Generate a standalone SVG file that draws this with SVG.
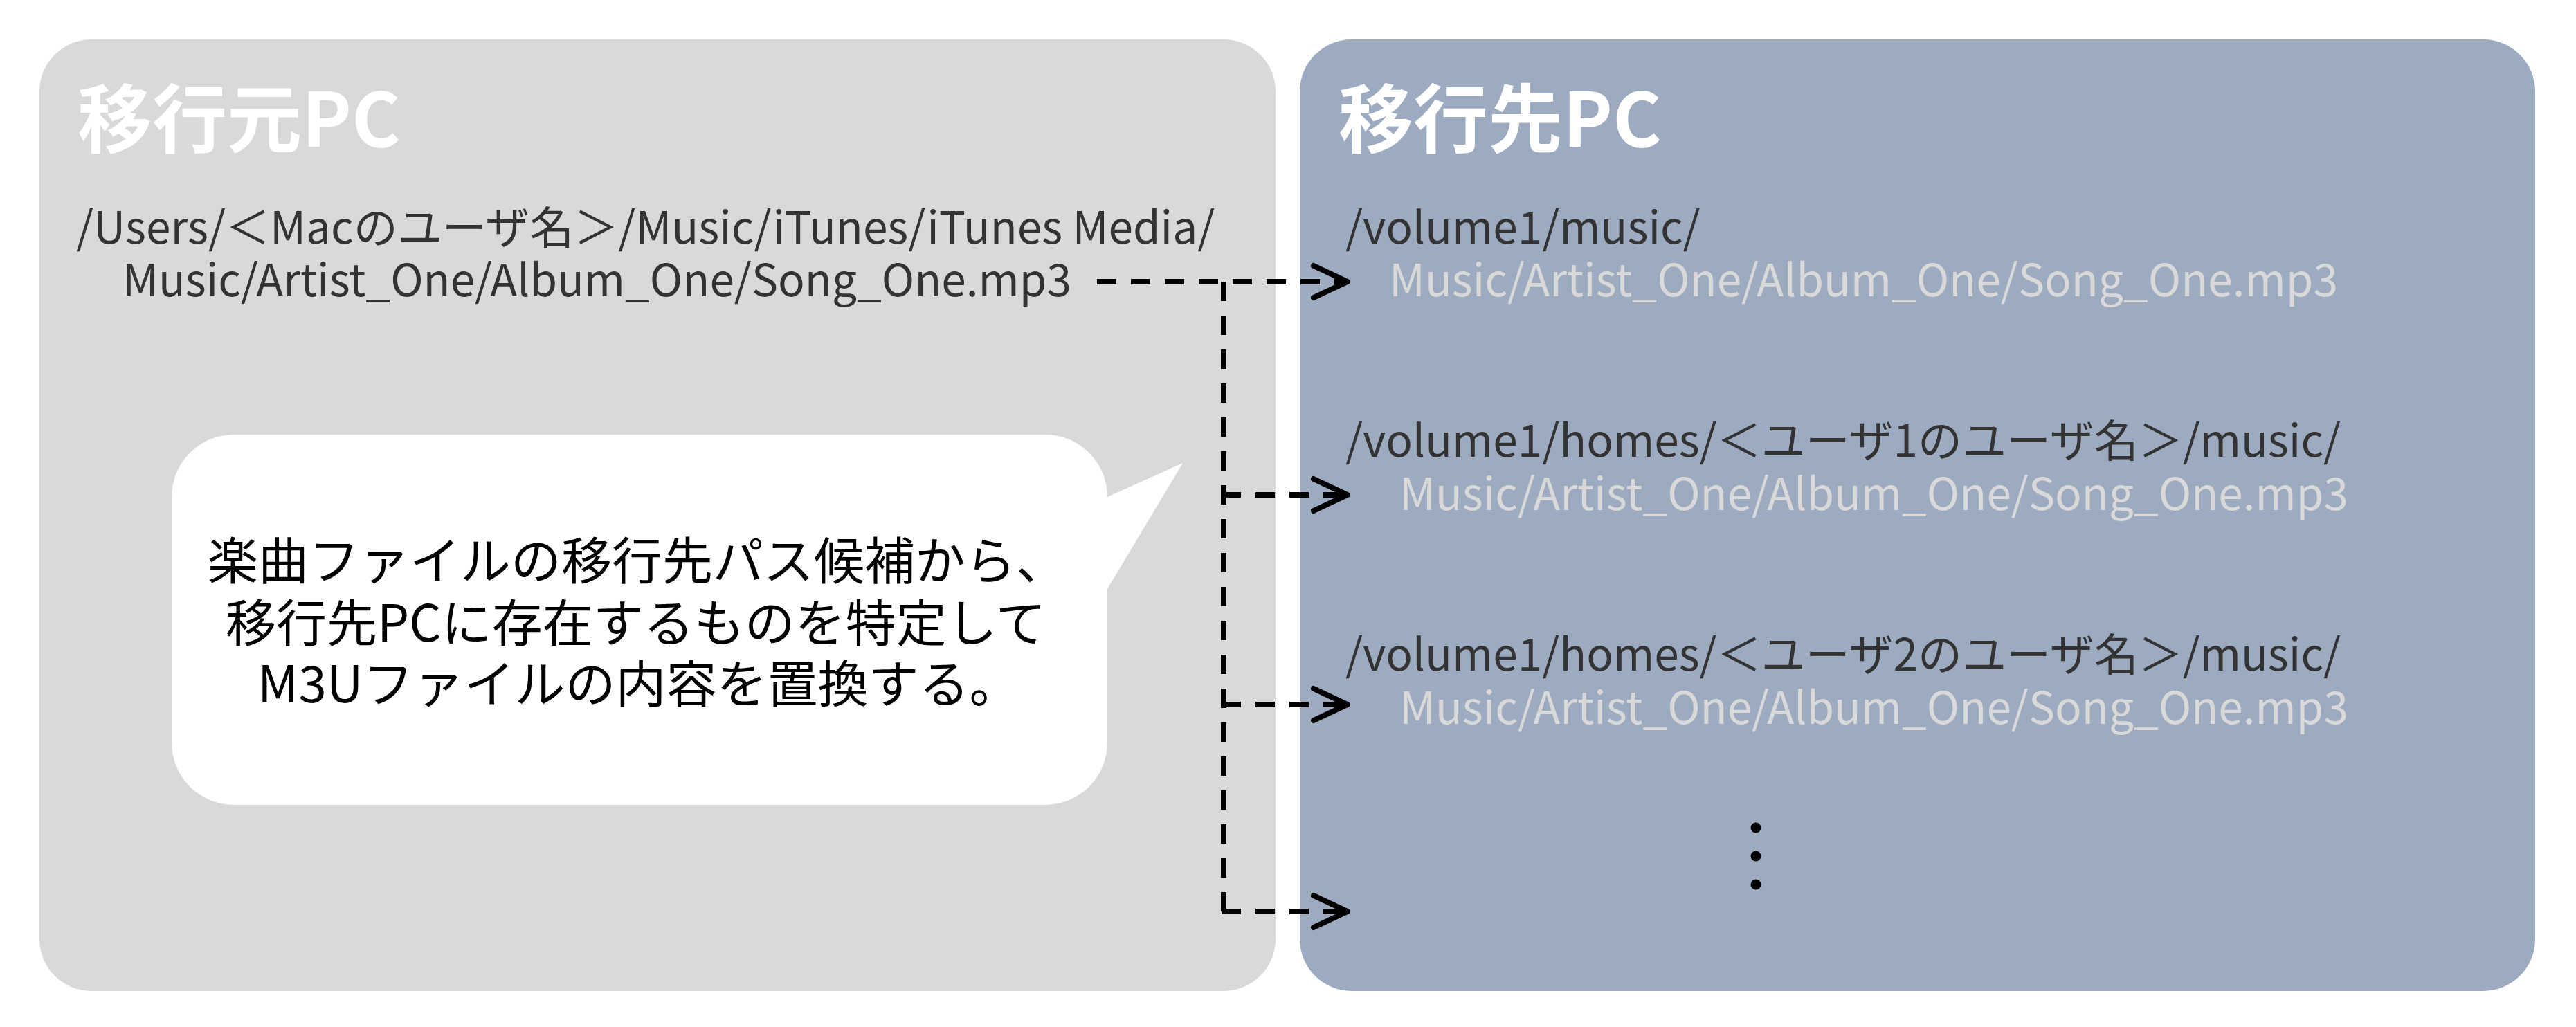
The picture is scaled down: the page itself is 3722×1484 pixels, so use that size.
<svg xmlns="http://www.w3.org/2000/svg" width="3722" height="1484" viewBox="0 0 3722 1484">
<defs>
<style>
.title{font-family:"Noto Sans CJK JP","Noto Sans",sans-serif;font-weight:700;font-size:108px;fill:#ffffff}
.path{font-family:"Noto Sans CJK JP","Noto Sans",sans-serif;font-weight:400;font-size:64px}
.dark{fill:#333333}
.light{fill:#d9d9d9}
.bubble{font-family:"Noto Sans CJK JP",sans-serif;font-weight:400;font-size:73px;fill:#000000}
.conn{fill:none;stroke:#000;stroke-width:8;stroke-dasharray:28 21}
.vline{fill:none;stroke:#000;stroke-width:8;stroke-dasharray:28 21}
</style>
<marker id="chev" markerUnits="userSpaceOnUse" viewBox="-6 -6 62 58" refX="49" refY="23" markerWidth="62" markerHeight="58" orient="auto" overflow="visible">
<path d="M0,0 L49,23 L0,46" fill="none" stroke="#000" stroke-width="8" stroke-linecap="round" stroke-linejoin="round" stroke-dasharray="none"/>
</marker>
</defs>
<rect width="3722" height="1484" fill="#ffffff"/>
<g id="source-pc">
<rect x="57" y="57" width="1786" height="1375" rx="75" ry="75" fill="#d9d9d9"/>
<text class="title" x="112" y="212">移行元PC</text>
<text class="path dark" x="110" y="352">/Users/＜Macのユーザ名＞/Music/iTunes/iTunes Media/</text>
<text class="path dark" x="177" y="428">Music/Artist_One/Album_One/Song_One.mp3</text>
</g>
<g id="dest-pc">
<rect x="1878" y="57" width="1785" height="1375" rx="75" ry="75" fill="#9dabc1"/>
<text class="title" x="1934" y="212">移行先PC</text>
<text class="path dark" x="1944" y="352">/volume1/music/</text>
<text class="path light" x="2007" y="428">Music/Artist_One/Album_One/Song_One.mp3</text>
<text class="path dark" x="1944" y="660">/volume1/homes/＜ユーザ1のユーザ名＞/music/</text>
<text class="path light" x="2022" y="737">Music/Artist_One/Album_One/Song_One.mp3</text>
<text class="path dark" x="1944" y="969">/volume1/homes/＜ユーザ2のユーザ名＞/music/</text>
<text class="path light" x="2022" y="1046">Music/Artist_One/Album_One/Song_One.mp3</text>
<circle cx="2537" cy="1196" r="7.5" fill="#000"/>
<circle cx="2537" cy="1237" r="7.5" fill="#000"/>
<circle cx="2537" cy="1278" r="7.5" fill="#000"/>
</g>
<g id="callout">
<path d="M338,628 H1510 A90,90 0 0 1 1600,718 L1709,669 L1600,851 V1073 A90,90 0 0 1 1510,1163 H338 A90,90 0 0 1 248,1073 V718 A90,90 0 0 1 338,628 Z" fill="#ffffff"/>
<text class="bubble" x="300" y="837">楽曲ファイルの移行先パス候補から、</text>
<text class="bubble" x="326" y="927">移行先PCに存在するものを特定して</text>
<text class="bubble" x="372" y="1015">M3Uファイルの内容を置換する。</text>
</g>
<g id="connectors">
<path class="conn" d="M1585,407 H1947" marker-end="url(#chev)"/>
<path class="vline" d="M1768,407 V1317"/>
<path class="conn" d="M1765,715 H1947" marker-end="url(#chev)"/>
<path class="conn" d="M1765,1018 H1947" marker-end="url(#chev)"/>
<path class="conn" d="M1765,1317 H1947" marker-end="url(#chev)"/>
</g>
</svg>
